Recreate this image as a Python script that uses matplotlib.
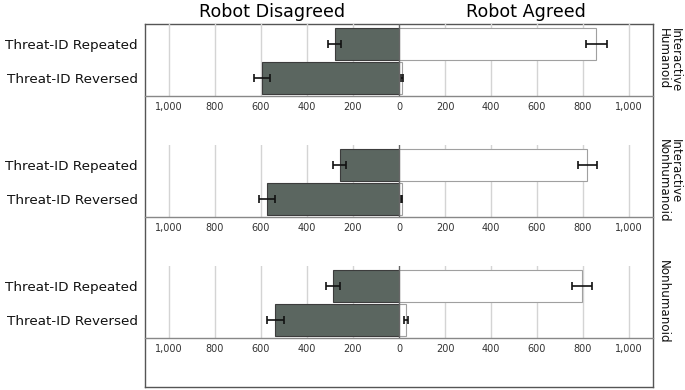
#!/usr/bin/env python

# import libraries
import numpy as np
import matplotlib
matplotlib.use("Agg")
import matplotlib.pyplot as plt

# data
conditions = ["Interactive\nHumanoid", "Interactive\nNonhumanoid", "Nonhumanoid"]
categories = ["Threat-ID Repeated", "Threat-ID Reversed"]

# robot disagreed (drawn to the left)
disagreed = [[280, 594], [258, 573], [288, 537]]
disagreed_err = [[30, 35], [29, 34], [31, 35]]

# robot agreed (drawn to the right)
agreed = [[858, 14], [819, 11], [797, 31]]
agreed_err = [[45, 5], [43, 4], [43, 10]]

tick_values = [-1000, -800, -600, -400, -200, 0, 200, 400, 600, 800, 1000]

# figure geometry in pixels
W, H = 685, 390
frame_left, frame_right = 145, 653
frame_top, frame_bottom = 24, 387
panel_step = 121
panel_height = 72

dark_fill = "#5b6660"
grid_color = "#d4d4d4"

fig = plt.figure(figsize=(W / 100, H / 100), dpi=100)

# outer frame
frame = fig.add_axes([frame_left / W, 1 - frame_bottom / H,
                      (frame_right - frame_left) / W, (frame_bottom - frame_top) / H])
frame.set_xticks([])
frame.set_yticks([])
for s in frame.spines.values():
    s.set_color("#555555")
    s.set_linewidth(1.0)
frame.set_zorder(0)

y = np.arange(len(categories))

for i, cond in enumerate(conditions):
    top = frame_top + panel_step * i
    ax = fig.add_axes([frame_left / W, 1 - (top + panel_height) / H,
                       (frame_right - frame_left) / W, panel_height / H])
    ax.set_zorder(1)
    ax.patch.set_alpha(0)

    # gridlines
    for t in tick_values:
        if t != 0:
            ax.axvline(t, color=grid_color, lw=1.0, zorder=0)

    # bars
    ax.barh(y, [-v for v in disagreed[i]], height=0.93, color=dark_fill,
            edgecolor="#3c3c3c", lw=0.8, zorder=2)
    ax.barh(y, agreed[i], height=0.93, color="white",
            edgecolor="#a0a0a0", lw=0.8, zorder=2)

    # error bars
    ax.errorbar([-v for v in disagreed[i]], y, xerr=disagreed_err[i], fmt="none",
                ecolor="#111111", elinewidth=1.2, capsize=3, capthick=1.2, zorder=3)
    ax.errorbar(agreed[i], y, xerr=agreed_err[i], fmt="none",
                ecolor="#111111", elinewidth=1.2, capsize=3, capthick=1.2, zorder=3)

    ax.axvline(0, color="#666666", lw=1.0, zorder=4)

    ax.set_xlim(-1104, 1104)
    ax.set_ylim(1.53, -0.59)

    ax.set_yticks(y)
    ax.set_yticklabels(categories, fontsize=9.7, color="#111111")
    ax.tick_params(axis="y", length=0, pad=5)

    ax.set_xticks(tick_values)
    ax.set_xticklabels(["{:,}".format(abs(t)) for t in tick_values],
                       fontsize=7, color="#333333")
    ax.tick_params(axis="x", length=0, pad=4)

    for side in ["left", "right", "top"]:
        ax.spines[side].set_visible(False)
    ax.spines["bottom"].set_color("#888888")
    ax.spines["bottom"].set_linewidth(1.0)

    # strip label on the right
    ax.text(1.008, 0.5, cond, transform=ax.transAxes, rotation=270,
            ha="left", va="center", fontsize=8.6, color="#111111",
            linespacing=0.85)

# column titles
fig.text((frame_left + 399) / 2 / W, 1 - 12 / H, "Robot Disagreed",
         ha="center", va="center", fontsize=12.6)
fig.text((399 + frame_right) / 2 / W, 1 - 12 / H, "Robot Agreed",
         ha="center", va="center", fontsize=12.6)

fig.savefig("out.png", dpi=100)
